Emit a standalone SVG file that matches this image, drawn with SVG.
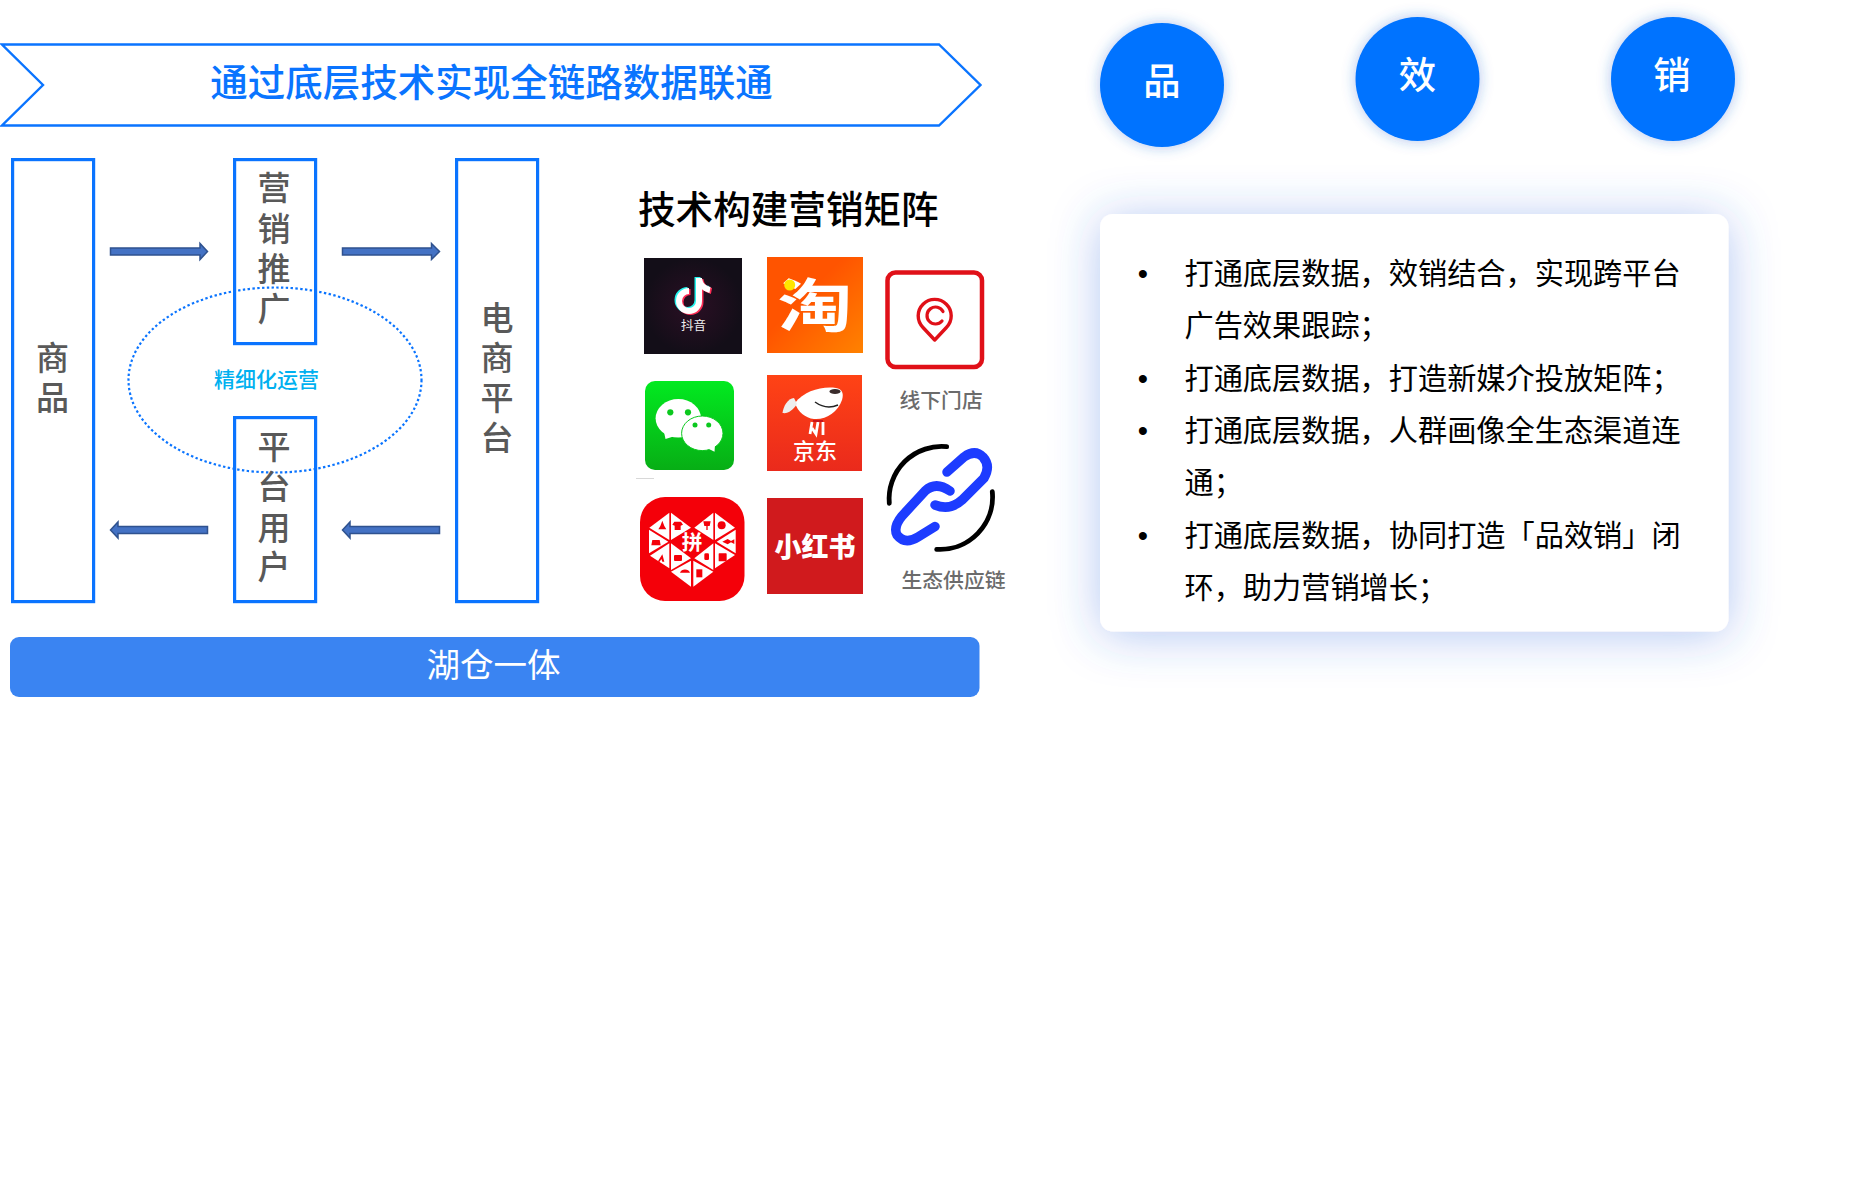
<svg xmlns="http://www.w3.org/2000/svg" width="1866" height="1189" viewBox="0 0 1866 1189">
<style>
text{font-family:"Noto Sans CJK SC","Noto Sans",sans-serif}
.box{fill:none;stroke:#0a74ff;stroke-width:3.2}
.v{font-size:33px;font-weight:500;fill:#595959;text-anchor:middle}
.arr{fill:#4472c4;stroke:#2f528f;stroke-width:1.5}
.li{font-size:29.2px;fill:#000}
.dot{font-size:29.33px;fill:#000;text-anchor:middle;font-family:"Liberation Sans",sans-serif}
.cap{font-size:20.8px;font-weight:500;fill:#6b6b6b}
.ct{font-size:37.33px;font-weight:500;fill:#fff;text-anchor:middle}
.ci{fill:#0073ff;filter:url(#glow)}
.tri{fill:#fff}
.rd{fill:#f40009}
</style>
<defs>
<filter id="glow" x="-30%" y="-30%" width="160%" height="160%"><feDropShadow dx="0" dy="0" stdDeviation="7" flood-color="#2a66d0" flood-opacity="0.38"/></filter>
<filter id="card" x="-20%" y="-30%" width="140%" height="160%"><feDropShadow dx="0" dy="4" stdDeviation="24" flood-color="#2f66dd" flood-opacity="0.36"/></filter>
<radialGradient id="tk"><stop offset="0" stop-color="#2b0f24"/><stop offset="1" stop-color="#130e18"/></radialGradient>
<linearGradient id="tb" x1="0.4" y1="0.4" x2="1" y2="1"><stop offset="0" stop-color="#ff5400"/><stop offset="1" stop-color="#ff8200"/></linearGradient>
<linearGradient id="wx" x1="0" y1="0" x2="0" y2="1"><stop offset="0" stop-color="#02ea20"/><stop offset="1" stop-color="#07ae15"/></linearGradient>
<linearGradient id="jd" x1="0" y1="0" x2="0" y2="1"><stop offset="0" stop-color="#ff4315"/><stop offset="1" stop-color="#ea2a1c"/></linearGradient>
</defs>

<g id="banner">
<polygon points="2,44.5 939,44.5 980.500,85 939,125.5 2,125.5 43,85" fill="#fff" stroke="#0a74ff" stroke-width="2.4"/>
<text x="491.5" y="95.500" font-size="37.5" fill="#0a74ff" text-anchor="middle" font-weight="500">通过底层技术实现全链路数据联通</text>
</g>

<g id="ellipse-ops">
<ellipse cx="275" cy="380" rx="146.5" ry="92.5" fill="none" stroke="#0a74ff" stroke-width="2.2" stroke-dasharray="2.4 2.4"/>
<text x="266.500" y="386.500" font-size="21" font-weight="500" fill="#00b0f0" text-anchor="middle">精细化运营</text>
</g>

<g id="node-goods">
<rect class="box" x="12.6" y="159.6" width="81" height="442"/>
<text class="v" x="52.5" y="370">商</text>
<text class="v" x="52.5" y="410">品</text>
</g>
<g id="node-promo">
<rect class="box" x="234.6" y="159.6" width="81" height="184"/>
<text class="v" x="274" y="200">营</text>
<text class="v" x="274" y="241">销</text>
<text class="v" x="274" y="281">推</text>
<text class="v" x="274" y="320.5">广</text>
</g>
<g id="node-users">
<rect class="box" x="234.6" y="417.6" width="81" height="184"/>
<text class="v" x="274" y="459">平</text>
<text class="v" x="274" y="499">台</text>
<text class="v" x="274" y="540">用</text>
<text class="v" x="274" y="579">户</text>
</g>
<g id="node-platform">
<rect class="box" x="456.6" y="159.6" width="81" height="442"/>
<text class="v" x="497" y="329.5">电</text>
<text class="v" x="497" y="370">商</text>
<text class="v" x="497" y="410">平</text>
<text class="v" x="497" y="449.5">台</text>
</g>

<g id="connectors">
<polygon class="arr" points="110.500,248 200,248 200,243.5 207.500,251.5 200,259.5 200,255 110.500,255"/>
<polygon class="arr" points="342.500,248 431.500,248 431.500,243.5 439.500,251.5 431.500,259.5 431.500,255 342.500,255"/>
<polygon class="arr" points="207.500,526.5 118,526.5 118,522 110.500,530 118,538 118,533.5 207.500,533.5"/>
<polygon class="arr" points="439.500,526.5 350,526.5 350,522 342.500,530 350,538 350,533.5 439.500,533.5"/>
</g>

<g id="node-lakehouse">
<rect x="10" y="637" width="969.500" height="60" rx="9" fill="#3a84f2"/>
<text x="493.500" y="676.500" font-size="33.5" fill="#fff" text-anchor="middle">湖仓一体</text>
</g>

<g id="matrix-title">
<text x="638" y="222.500" font-size="37.6" font-weight="500" fill="#000">技术构建营销矩阵</text>
</g>

<g id="icon-douyin">
<rect x="644" y="258" width="98" height="96" fill="url(#tk)"/>
<g fill="none" stroke-width="6">
<path d="M697.5 277V300a10 10 0 1 1-10-10M697.5 278c1 6 6 10 11 11" stroke="#25f4ee"/>
<path d="M700.5 279V302a10 10 0 1 1-10-10M700.5 280c1 6 6 10 11 11" stroke="#fe2c55"/>
<path d="M699 278V301a10 10 0 1 1-10-10M699 279c1 6 6 10 11 11" stroke="#fff"/>
</g>
<text x="693.5" y="330" font-size="12.5" fill="#eee" text-anchor="middle">抖音</text>
</g>

<g id="icon-taobao">
<rect x="767" y="257" width="96" height="96" fill="url(#tb)"/>
<text transform="translate(815 327) scale(1.1 .86)" font-size="68" font-weight="700" fill="#fff" text-anchor="middle">淘</text>
<circle cx="789.7" cy="285" r="5.5" fill="#ffe600"/>
</g>

<g id="icon-store">
<rect x="887.5" y="272.5" width="94.5" height="94.5" rx="8" fill="#fff" stroke="#e01018" stroke-width="4.5"/>
<path d="M934.7 340L923 327.500A16.500 16.500 0 1 1 946.400 327.500Z" fill="none" stroke="#e01018" stroke-width="3.4" stroke-linejoin="round"/>
<path d="M942 321A8.500 8.500 0 1 1 943 311.500" fill="none" stroke="#e01018" stroke-width="3.2" stroke-linecap="round"/>
<text class="cap" x="899.500" y="408">线下门店</text>
</g>

<g id="icon-wechat">
<rect x="645" y="381" width="89" height="89" rx="10" fill="url(#wx)"/>
<ellipse cx="678.300" cy="418.300" rx="22.700" ry="19.300" fill="#fff"/>
<polygon points="664,432 665.500,439 675,436" fill="#fff"/>
<circle cx="670.300" cy="412.300" r="3.100" fill="#0bc81e"/>
<circle cx="688" cy="412.300" r="3.100" fill="#0bc81e"/>
<ellipse cx="702.300" cy="433.300" rx="20.700" ry="17.300" fill="#fff" stroke="#0bc81e" stroke-width="1"/>
<polygon points="709,449 714.500,451.700 715,444" fill="#fff"/>
<circle cx="695" cy="425" r="2.500" fill="#0bc81e"/>
<circle cx="708.700" cy="425" r="2.500" fill="#0bc81e"/>
<rect x="636" y="478" width="18" height="0.800" fill="#cfcfcf"/>
</g>

<g id="icon-jd">
<rect x="767" y="375" width="95" height="96" fill="url(#jd)"/>
<path d="M795 403C804 391 822 386 836 388C842 389 844 393 842 400C838 412 826 420 814 419C805 418 798 412 795 403Z" fill="#fff"/>
<path d="M794 398C788 398 783 407 782.500 413C788 414 793 410 797 404Z" fill="#eee"/>
<ellipse cx="835" cy="391.500" rx="5.500" ry="2.400" fill="#3a2c2c"/>
<path d="M815 402Q826 410 838 405" fill="none" stroke="#222" stroke-width="1.500"/>
<path d="M812 422L810 434M818 422L816 434L812 428M823 422V435" fill="none" stroke="#fff" stroke-width="2.800"/>
<rect x="813" y="420" width="10" height="2" fill="#c8161d"/>
<text x="815" y="459" font-size="22" font-weight="500" fill="#fff" text-anchor="middle">京东</text>
</g>

<g id="icon-pinduoduo">
<rect x="640" y="497" width="104.500" height="104" rx="25" fill="#f40009"/>
<g transform="translate(635 490) scale(.3333)">
<g class="tri">
<polygon points="43,113 103,68 103,150"/><polygon points="108,68 168,113 108,150"/>
<polygon points="178,113 235,68 235,150"/><polygon points="240,68 300,113 240,150"/>
<polygon points="42,119 100,155 42,190"/><polygon points="302,119 302,190 245,155"/>
<polygon points="45,197 103,160 103,235"/><polygon points="108,160 168,205 108,240"/>
<polygon points="178,205 235,160 235,240"/><polygon points="240,160 300,195 240,235"/>
<polygon points="108,245 168,212 168,290"/><polygon points="175,212 235,245 175,290"/>
</g>
<g class="rd">
<polygon points="82,92 76,108 70,118 94,118 88,108"/>
<polygon points="118,95 138,95 144,104 137,107 137,120 119,120 119,107 112,104"/>
<path d="M205 94h22l-3 14h-6v12h-4v-12h-6z"/>
<circle cx="260" cy="106" r="12"/>
<path d="M52 150h22l3 16h-28z"/>
<path d="M262 155l16-8 10 6 10-5v14l-10-5-10 6z"/>
<path d="M68 215l14-22 6 22h-6l-3-8-5 8z"/>
<rect x="117" y="195" width="24" height="18" rx="3"/>
<rect x="208" y="190" width="14" height="20" rx="4"/>
<rect x="251" y="190" width="24" height="24" rx="2"/>
<path d="M135 248a16 14 0 0 1 30 0zM150 248v16" />
<rect x="184" y="238" width="18" height="24"/>
</g>
<text x="171" y="179" font-size="62" font-weight="700" fill="#fff" text-anchor="middle">拼</text>
</g>
</g>

<g id="icon-xiaohongshu">
<rect x="767" y="498" width="96" height="96" fill="#d01a1d"/>
<text x="815" y="557" font-size="27" font-weight="900" fill="#fff" text-anchor="middle">小红书</text>
</g>

<g id="icon-chain">
<path d="M946.700 446.700A52.500 52.500 0 0 0 889.300 503.300" fill="none" stroke="#000" stroke-width="4.800" stroke-linecap="round"/>
<path d="M992.300 491.700A52.500 52.500 0 0 1 936.700 549.300" fill="none" stroke="#000" stroke-width="4.800" stroke-linecap="round"/>
<path d="M947 472L964 457Q975 449 983 457Q991 466 984 478L962 500Q950 511 935 505" fill="none" stroke="#1d3cff" stroke-width="9.500" stroke-linecap="round"/>
<path d="M950 491Q936 481 925 491L902 516Q893 527 897 535Q905 545 918 537L935 526.500" fill="none" stroke="#1d3cff" stroke-width="9.500" stroke-linecap="round"/>
<text class="cap" x="901.500" y="588">生态供应链</text>
</g>

<g id="node-pin"><circle class="ci" cx="1162" cy="85" r="62"/><text class="ct" x="1162" y="95">品</text></g>
<g id="node-xiao"><circle class="ci" cx="1417.500" cy="79" r="62"/><text class="ct" x="1417.500" y="89">效</text></g>
<g id="node-xiaoshou"><circle class="ci" cx="1673" cy="79" r="62"/><text class="ct" x="1672" y="89">销</text></g>

<g id="card-benefits">
<rect x="1100" y="214" width="628.500" height="417.500" rx="13" fill="#fff" filter="url(#card)"/>
<text class="dot" x="1143" y="284">•</text>
<text class="li" x="1184.500" y="284.200">打通底层数据，效销结合，实现跨平台</text>
<text class="li" x="1184.500" y="336.400">广告效果跟踪；</text>
<text class="dot" x="1143" y="388.600">•</text>
<text class="li" x="1184.500" y="388.700">打通底层数据，打造新媒介投放矩阵；</text>
<text class="dot" x="1143" y="441">•</text>
<text class="li" x="1184.500" y="441">打通底层数据，人群画像全生态渠道连</text>
<text class="li" x="1184.500" y="493.200">通；</text>
<text class="dot" x="1143" y="545.500">•</text>
<text class="li" x="1184.500" y="545.500">打通底层数据，协同打造「品效销」闭</text>
<text class="li" x="1184.500" y="597.700">环，助力营销增长；</text>
</g>
</svg>
